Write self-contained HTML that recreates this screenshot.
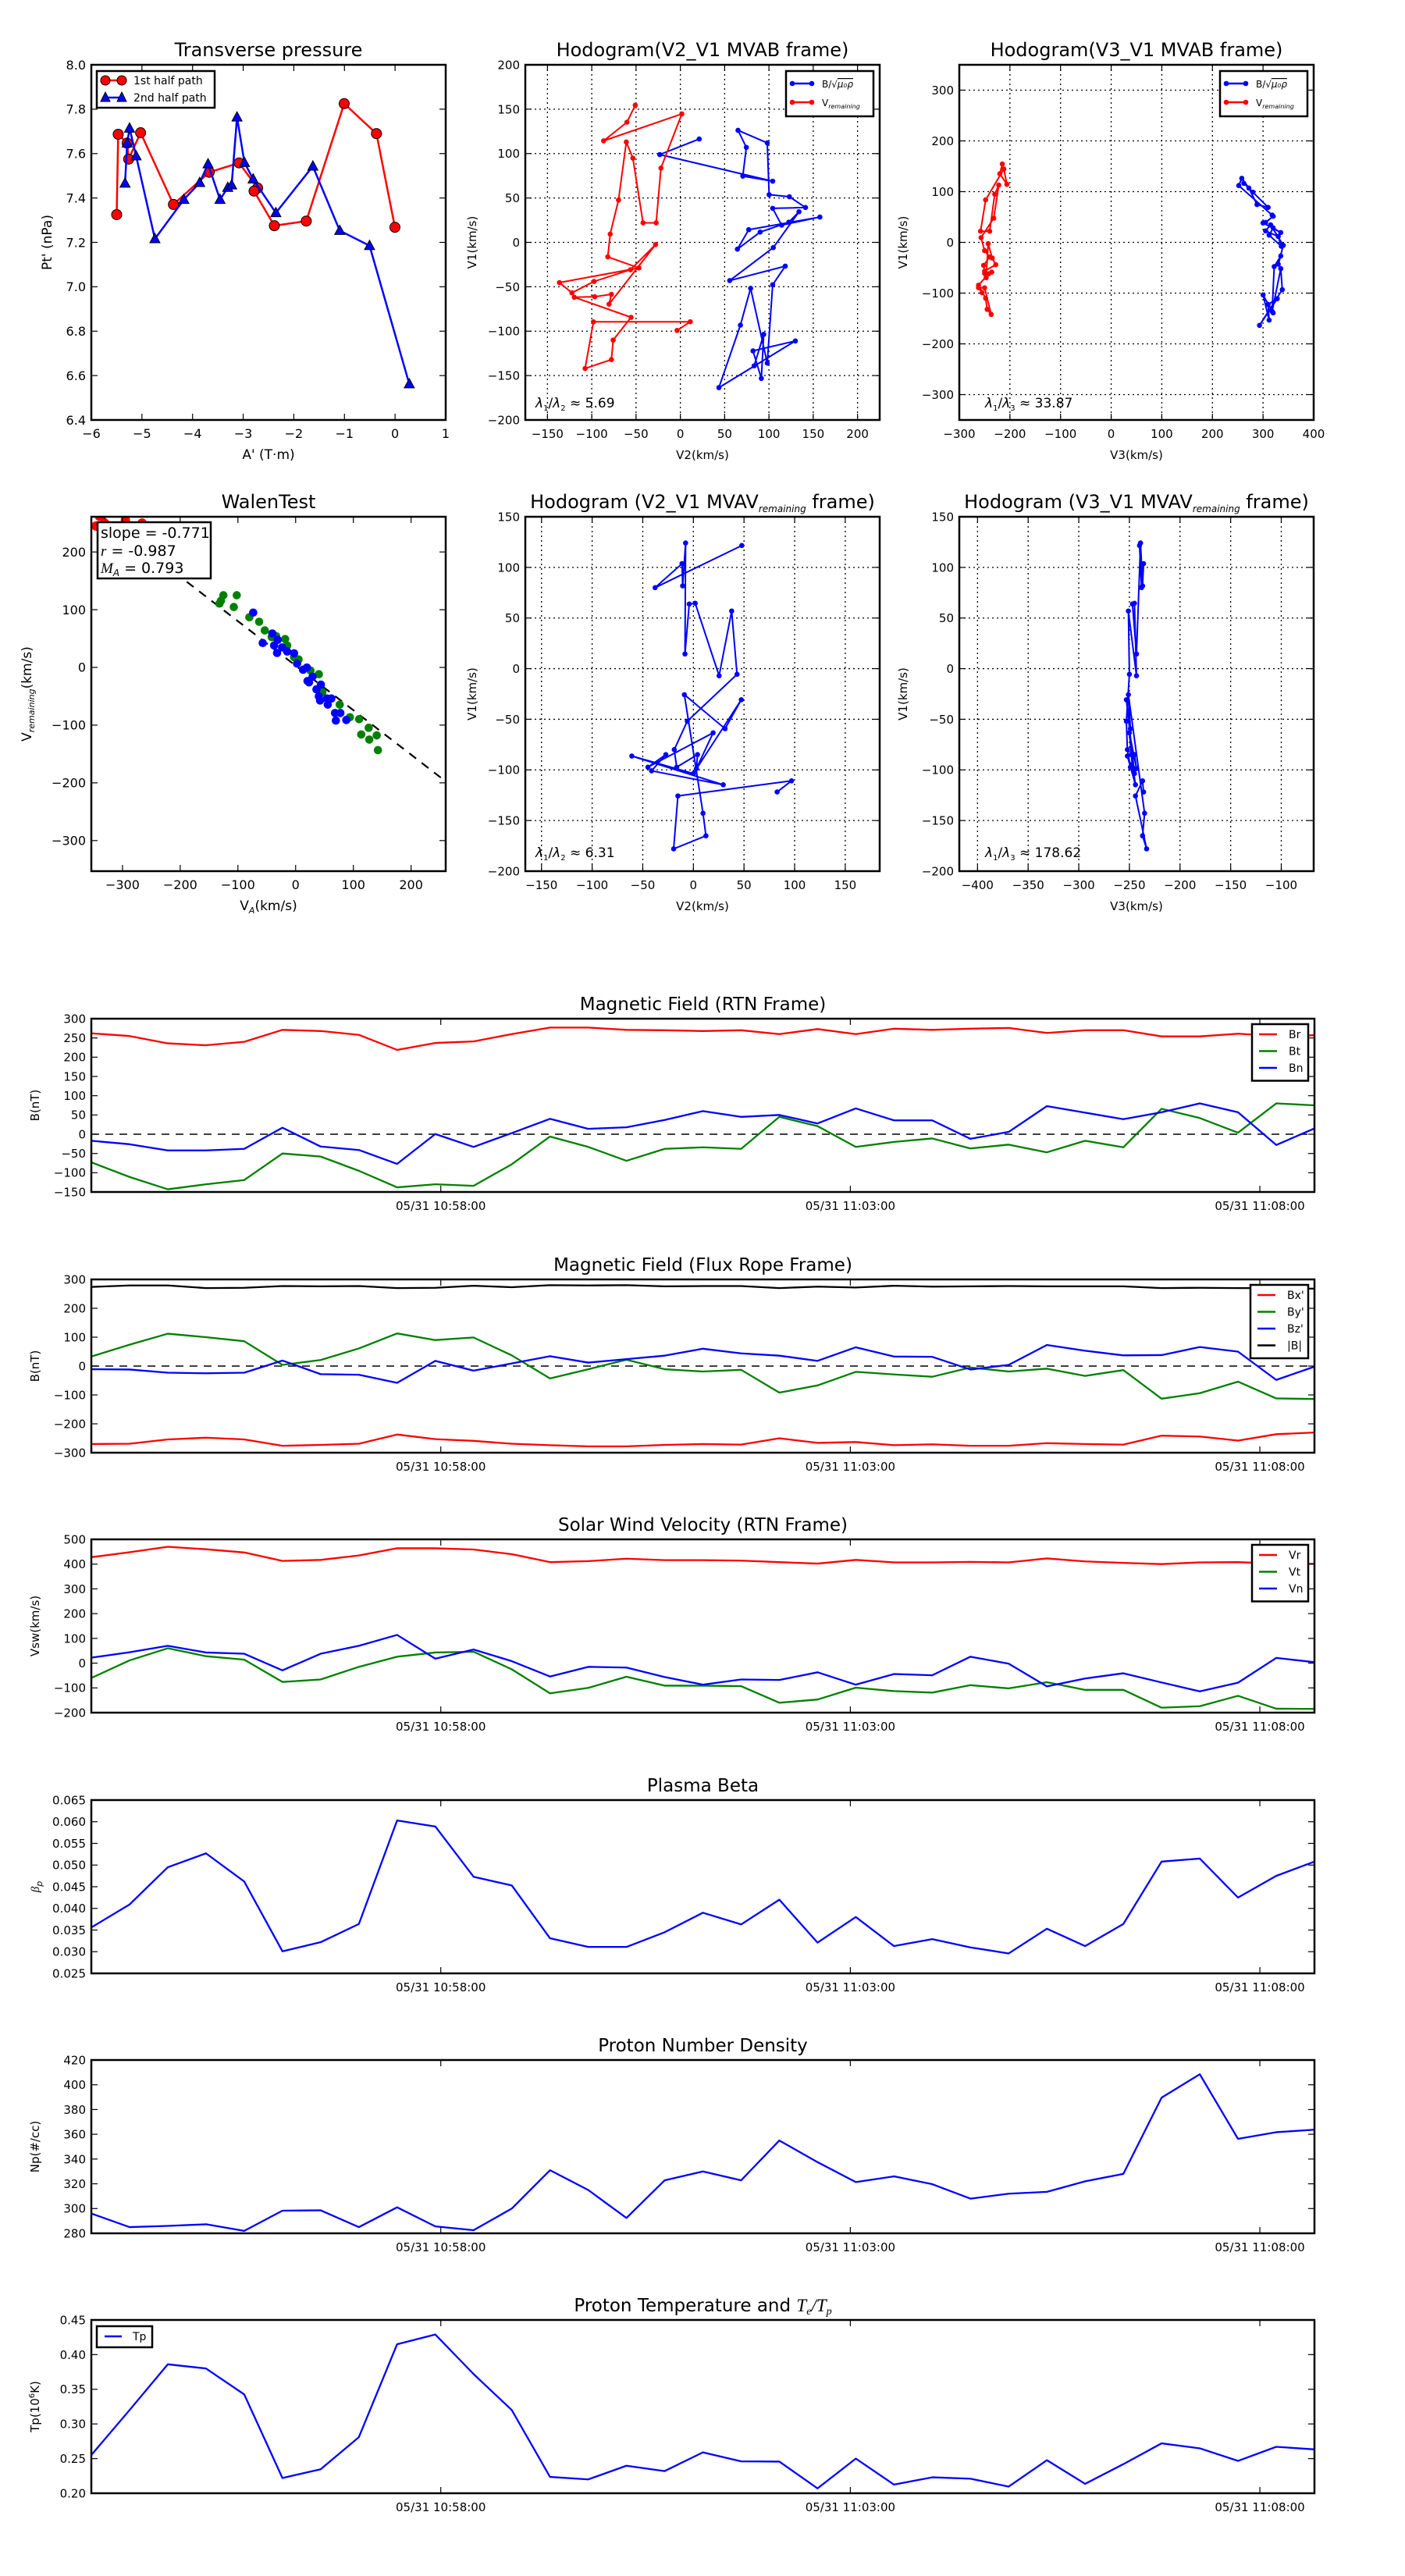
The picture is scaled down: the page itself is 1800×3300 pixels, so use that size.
<!DOCTYPE html>
<html><head><meta charset="utf-8"><title>Flux rope analysis</title>
<style>
html,body{margin:0;padding:0;background:#fff;}
svg{display:block;font-family:"DejaVu Sans","Liberation Sans",sans-serif;}
</style></head>
<body>
<svg id="fig" xmlns="http://www.w3.org/2000/svg" width="1800" height="3300" viewBox="0 0 1800 3300">
<rect x="0" y="0" width="1800" height="3300" fill="#fff"/>
</svg>
<script>
// ---------------- DATA ----------------
// Transverse pressure
const ptA1 = [-5.499,-5.469,-5.292,-5.263,-5.027,-4.378,-3.671,-3.081,-2.715,-2.786,-2.385,-1.754,-1.005,-0.368,-0.003];
const ptP1 = [7.325,7.687,7.647,7.575,7.694,7.371,7.516,7.558,7.445,7.431,7.275,7.296,7.825,7.69,7.268];
const ptA2 = [-5.334,-5.292,-5.245,-5.115,-4.744,-4.172,-3.859,-3.694,-3.458,-3.305,-3.228,-3.122,-2.975,-2.804,-2.355,-1.624,-1.093,-0.504,0.281];
const ptP2 = [7.466,7.647,7.714,7.589,7.216,7.393,7.469,7.553,7.393,7.447,7.458,7.764,7.559,7.485,7.333,7.543,7.253,7.185,6.562];
// MVAB hodogram - B/sqrt(mu0 rho)
const bV2 = [21.3,-23.2,104.2,70.5,74.5,65.1,98.1,100.2,123.1,141.3,104.2,114.3,157.5,77.2,64.4,90.1,122.4,133.9,104.9,55.7,118.4,104.2,98.1,79.3,67.8,43.5,129.8,82,91.4,94.1,83.3];
const bV1 = [116.4,98.9,68.9,74.6,107,126.2,112,53.7,51.4,39.3,38.3,19.4,28.5,14.3,-7.6,11.6,22.7,34.5,-5.9,-43,-26.8,-47.7,-136,-51.7,-93.2,-163.6,-111,-122.2,-153.2,-103.6,-139];
const bV3 = [262,280,310,288,272,258,252,318,320,305,300,335,320,312,336,330,305,315,340,330,335,322,318,335,338,293,328,310,312,300,320];
// MVAB hodogram - V remaining
const rV2 = [-3.7,11.2,-98.1,-107.5,-77.8,-75.8,-55.6,-119.7,-96.7,-77.8,-80.5,-28,-56.3,-97.4,-122.4,-136.5,-46.8,-81.9,-79.2,-69.8,-61,-53.6,-42.1,-27.3,-21.9,1.7,-86.6,-60.3,-50.9];
const rV1 = [-99.2,-89.4,-89.5,-142,-132,-110,-84.4,-61.8,-61.2,-58.5,-69.6,-2.5,-30.8,-44,-56.8,-45.3,-28.8,-16.3,9.3,47.7,113,94.9,22,22,83.7,144.7,114.4,135.3,154.5];
const rV3 = [-255,-262,-250,-237,-245,-248,-262,-242,-250,-236,-247,-243,-235,-228,-250,-252,-240,-250,-257,-232,-222,-230,-240,-258,-248,-212,-206,-220,-215];
// MVAV hodogram
const aV2 = [82.7,96.9,-15.3,-19.5,12.4,9.5,-8.9,31.3,47.3,0,-60.8,29.5,-41.3,-27.2,-44.9,19.5,3,4.1,-16.5,-18.9,-6,43.1,37.8,25.4,1.8,-4.1,-8.3,-7.7,-10.6,-11.2,-37.8,47.8];
const aV1 = [-121.8,-110.8,-125.7,-178,-165.1,-142.8,-25.7,-59.3,-30.7,-103.6,-86.3,-114.7,-100.9,-84.9,-97.3,-63.4,-98.7,-84.9,-97.3,-80,-51.9,-5.6,56.9,-7,64.6,63.8,14.5,124.1,81.7,103.7,80,121.6];
const aV3 = [-236,-237,-244,-233,-237,-235,-251,-249,-253,-245,-252,-244,-246,-248,-247,-250,-243,-245,-249,-252,-253,-250,-251,-243,-245,-247,-243,-239,-237,-236,-238,-240];
// Walen test
const walGreenVA = [-129.4,-125.2,-102,-107.1,-80.2,-63.2,-53.4,-41.5,-33.7,-18.2,-14.6,-2.7,5.1,25.7,40.2,46.4,76.4,94,110,126.6,113.7,127.6,140.5,142.6,-132];
const walGreenVR = [115.4,125,125,104.7,86.8,79.1,64.1,52.5,54,49.1,38,17.7,13.8,-5.5,-11.8,-42.7,-64.5,-86.3,-89.7,-104.6,-116.2,-125,-117.7,-143.3,110.6];
const walBlueVA = [-73.5,-57,-40.4,-31.1,-37.3,-32.2,-23.4,-14.6,-2.7,2.5,12.8,19.5,29.4,20.6,23.2,36.1,43.8,40.2,42.3,54.2,61.9,55.7,68.2,77.5,69.7,87.8];
const walBlueVR = [95,42.3,58.8,47.7,38,25,34.6,27.4,24.5,6.6,-4,-0.2,-16.1,-23.5,-25.9,-38,-29.8,-50,-57.3,-53.9,-53.9,-64.5,-79,-79,-92.1,-91.1];
const walRedVA = [-346,-331,-295,-266,-340];
const walRedVR = [245,250,255,250,262];
const walSlope = -0.771;
const walIntercept = 3;
// Time series (cadence 28 s starting 10:53:44)
const cadenceSec = 28;
const timeTickSec = [256,556,856];
const timeTickLabels = ["05/31 10:58:00","05/31 11:03:00","05/31 11:08:00"];
const Br = [262,255,236,231,240,271,268,258,219,237,241,260,277,277,271,270,268,270,260,273,260,274,271,274,276,263,270,270,254,254,261,255,257];
const Bt = [-73,-111,-143,-130,-119,-50,-58,-95,-138,-130,-134,-78,-6,-33,-69,-38,-34,-38,45,21,-33,-20,-11,-37,-27,-47,-17,-34,66,42,4,80,75];
const Bn = [-17,-26,-42,-42,-38,17,-32,-41,-77,0.5,-33,3,40,14,18,37,60,45,50,28,67,36,36,-12,6,73,56,39,57,80,57,-28,15];
const Bx = [-270,-269,-254,-248,-254,-276,-273,-269,-237,-253,-259,-269,-274,-278,-278,-273,-270,-272,-250,-266,-263,-274,-271,-276,-276,-267,-270,-272,-241,-244,-258,-236,-230];
const By = [33,74,112,100,86,4,21,61,113,90,99,37,-43,-11,22,-11,-19,-13,-92,-67,-20,-29,-37,-5,-19,-9,-34,-14,-113,-94,-54,-112,-114];
const Bz = [-11,-12,-23,-25,-23,19,-28,-30,-58,18,-16,9,34,12,24,36,60,44,36,18,65,33,32,-12,4,73,53,37,38,66,50,-48,-2];
const Bmag = [274,279,279,270,271,277,276,277,270,271,278,273,280,279,280,276,277,277,270,275,272,278,275,276,277,276,276,276,270,271,270,270,268];
const Vr = [428,448,470,460,447,413,417,435,464,464,459,440,408,412,422,416,416,414,408,402,417,407,407,409,407,423,411,405,400,407,408,402,401];
const Vt = [-60,11,60,28,14,-76,-66,-15,26,43,46,-25,-122,-100,-55,-91,-91,-93,-160,-147,-99,-113,-119,-89,-102,-77,-108,-108,-180,-174,-132,-184,-185];
const Vn = [22,44,70,43,38,-29,38,70,114,18,55,8,-54,-15,-18,-56,-87,-66,-68,-37,-87,-44,-49,26,-2,-94,-62,-41,-78,-114,-79,21,4];
const betaP = [0.0356,0.0409,0.0495,0.0527,0.0462,0.0301,0.0322,0.0364,0.0603,0.0589,0.0473,0.0453,0.0331,0.0311,0.0311,0.0345,0.039,0.0363,0.042,0.0321,0.038,0.0313,0.0329,0.031,0.0296,0.0353,0.0313,0.0364,0.0508,0.0515,0.0425,0.0475,0.0508];
const Np = [296,285,286,287.3,282,298.3,298.6,285,301,285.6,282.5,300,331,315,292.4,322.8,330,322.8,355,337.5,321.4,326,319.7,308,312,313.5,322,328,389.6,408.5,356.3,361.7,363.7];
const Tp = [0.2552,0.320,0.386,0.380,0.3426,0.222,0.2346,0.281,0.415,0.429,0.372,0.320,0.2236,0.220,0.2397,0.232,0.259,0.246,0.2457,0.207,0.250,0.2125,0.223,0.221,0.2096,0.2477,0.2136,0.242,0.272,0.2648,0.2467,0.267,0.2633];

// ---------------- HELPERS ----------------
const NS = "http://www.w3.org/2000/svg";
const svg = document.getElementById('fig');
let clipCount = 0;
function el(tag, attrs, parent) {
  const e = document.createElementNS(NS, tag);
  for (const k in attrs) e.setAttribute(k, attrs[k]);
  (parent || svg).appendChild(e);
  return e;
}
function fmtNum(v, d) {
  const s = Math.abs(v).toFixed(d);
  return (v < 0 ? "\u2212" : "") + s;
}
function range(a, b, s) { const r = []; for (let v = a; v <= b + s * 1e-6; v += s) r.push(+v.toFixed(6)); return r; }

function axes(c) {
  const g = el('g', {});
  
  
  const sx = v => c.L + (v - c.xmin) / (c.xmax - c.xmin) * (c.R - c.L);
  const sy = v => c.B - (v - c.ymin) / (c.ymax - c.ymin) * (c.B - c.T);
  const fs = c.fs || 16;
  // grid
  if (c.grid) {
    const gg = el('g', {stroke: '#000', 'stroke-width': 1.3, 'stroke-dasharray': '2,4'}, g);
    
    
    c.xt.forEach(v => { const ln = el('line', {x1: sx(v), x2: sx(v), y1: c.T, y2: c.B}, gg);   });
    c.yt.forEach(v => { const ln = el('line', {x1: c.L, x2: c.R, y1: sy(v), y2: sy(v)}, gg);   });
  }
  const id = 'clip' + (clipCount++);
  const cp = el('clipPath', {id: id}, g);
  el('rect', {x: c.L, y: c.T, width: c.R - c.L, height: c.B - c.T}, cp);
  const data = el('g', {'clip-path': 'url(#' + id + ')'}, g);
  
  
  const frame = el('g', {}, g);
  
  
  // ticks
  const tl = 8;
  c.xt.forEach((v, i) => {
    const x = sx(v);
    const t1 = el('line', {x1: x, x2: x, y1: c.B, y2: c.B - tl, stroke: '#000', 'stroke-width': 1.2}, frame);
    
    
    const t2 = el('line', {x1: x, x2: x, y1: c.T, y2: c.T + tl, stroke: '#000', 'stroke-width': 1.2}, frame);
    
    
    const lb = el('text', {x: x, y: c.B + (c.xtOff || 23), 'text-anchor': 'middle', 'font-size': fs}, frame);
    lb.textContent = c.xtl[i];
    
    
  });
  c.yt.forEach((v, i) => {
    const y = sy(v);
    const t1 = el('line', {x1: c.L, x2: c.L + tl, y1: y, y2: y, stroke: '#000', 'stroke-width': 1.2}, frame);
    
    
    const t2 = el('line', {x1: c.R, x2: c.R - tl, y1: y, y2: y, stroke: '#000', 'stroke-width': 1.2}, frame);
    
    
    const lb = el('text', {x: c.L - 7, y: y + fs * 0.36, 'text-anchor': 'end', 'font-size': fs}, frame);
    lb.textContent = c.ytl[i];
    
    
  });
  const fr = el('rect', {x: c.L, y: c.T, width: c.R - c.L, height: c.B - c.T, fill: 'none', stroke: '#000', 'stroke-width': 2.5}, frame);
  
  
  // title
  const tt = el('text', {x: (c.L + c.R) / 2, y: c.T - 11, 'text-anchor': 'middle', 'font-size': c.tfs || 24}, frame);
  tt.innerHTML = c.title;
  
  
  if (c.xlabel) {
    const xl = el('text', {x: (c.L + c.R) / 2, y: c.B + (c.xlOff || 52), 'text-anchor': 'middle', 'font-size': c.lfs || 17}, frame);
    xl.innerHTML = c.xlabel;
    
    
  }
  if (c.ylabel) {
    const yx = c.ylX, yy = (c.T + c.B) / 2;
    const yl = el('text', {x: yx, y: yy, 'text-anchor': 'middle', 'font-size': c.lfs || 17, transform: 'rotate(-90 ' + yx + ' ' + yy + ')'}, frame);
    yl.innerHTML = c.ylabel;
    
    
  }
  return {sx, sy, data, frame};
}
function polyline(ax, xs, ys, color, w, name, dash) {
  const pts = xs.map((x, i) => ax.sx(x).toFixed(2) + ',' + ax.sy(ys[i]).toFixed(2)).join(' ');
  const p = el('polyline', {points: pts, fill: 'none', stroke: color, 'stroke-width': w, 'stroke-linejoin': 'round'}, ax.data);
  if (dash) p.setAttribute('stroke-dasharray', dash);
  
  
  return p;
}
function dots(ax, xs, ys, color, r, name) {
  xs.forEach((x, i) => {
    const c = el('circle', {cx: ax.sx(x), cy: ax.sy(ys[i]), r: r, fill: color, stroke: 'none'}, ax.data);
    
    
  });
}
function txt(x, y, html, fs, name, anchor) {
  const t = el('text', {x: x, y: y, 'font-size': fs, 'text-anchor': anchor || 'start'});
  t.innerHTML = html;
  
  
  return t;
}
function box(x, y, w, h, name) {
  const r = el('rect', {x: x, y: y, width: w, height: h, fill: '#fff', stroke: '#000', 'stroke-width': 2.5});
  
  
  return r;
}
function legLine(x1, x2, y, color, name) {
  const l = el('line', {x1: x1, x2: x2, y1: y, y2: y, stroke: color, 'stroke-width': 2.5});
  
  
  return l;
}
const sub = s => '<tspan font-size="70%" dy="4" font-style="italic">' + s + '</tspan><tspan dy="-4"></tspan>';

// ---------------- TRANSVERSE PRESSURE ----------------
(function () {
  const xt = range(-6, 1, 1), yt = range(6.4, 8.0, 0.2);
  const ax = axes({name: 'transverse-pressure-chart', L: 117, T: 83, R: 571, B: 538, xmin: -6, xmax: 1, ymin: 6.4, ymax: 8.0,
    xt: xt, xtl: xt.map(v => fmtNum(v, 0)), yt: yt, ytl: yt.map(v => fmtNum(v, 1)),
    title: 'Transverse pressure', xlabel: "A' (T\u00b7m)", ylabel: "Pt' (nPa)", ylX: 66, xlOff: 50});
  polyline(ax, ptA1, ptP1, '#ff0000', 2.5, 'first-half-path-line');
  ptA1.forEach((a, i) => {
    const c = el('circle', {cx: ax.sx(a), cy: ax.sy(ptP1[i]), r: 6.5, fill: '#ff0000', stroke: '#000', 'stroke-width': 1}, ax.data);
    
    
  });
  polyline(ax, ptA2, ptP2, '#0000ff', 2.5, 'second-half-path-line');
  ptA2.forEach((a, i) => {
    const x = ax.sx(a), y = ax.sy(ptP2[i]);
    const t = el('polygon', {points: (x) + ',' + (y - 7) + ' ' + (x - 6.5) + ',' + (y + 5) + ' ' + (x + 6.5) + ',' + (y + 5), fill: '#0000ff', stroke: '#000', 'stroke-width': 1}, ax.data);
    
    
  });
  box(124, 91, 151, 47, 'transverse-legend');
  legLine(135, 156, 103, '#ff0000', 'legend-line-first-half');
  [135, 156].forEach(x => { const c = el('circle', {cx: x, cy: 103, r: 6, fill: '#ff0000', stroke: '#000', 'stroke-width': 1});   });
  txt(171, 108, '1st half path', 14, 'legend-label-first-half');
  legLine(135, 156, 125, '#0000ff', 'legend-line-second-half');
  [135, 156].forEach(x => { const t = el('polygon', {points: x + ',' + 118 + ' ' + (x - 6) + ',' + 130 + ' ' + (x + 6) + ',' + 130, fill: '#0000ff', stroke: '#000', 'stroke-width': 1});   });
  txt(171, 130, '2nd half path', 14, 'legend-label-second-half');
})();

// ---------------- HODOGRAM V2-V1 MVAB ----------------
function hodoLegend(x, y, name) {
  box(x, y, 112, 58, name);
  legLine(x + 8, x + 33, y + 16, '#0000ff', 'legend-line-b');
  [x + 8, x + 33].forEach(cx => { const c = el('circle', {cx: cx, cy: y + 16, r: 3.3, fill: '#0000ff'});   });
  txt(x + 46, y + 21, 'B/\u221a<tspan text-decoration="overline" font-style="italic">\u03bc\u2080\u03c1</tspan>', 12, 'legend-label-b');
  legLine(x + 8, x + 33, y + 40, '#ff0000', 'legend-line-v');
  [x + 8, x + 33].forEach(cx => { const c = el('circle', {cx: cx, cy: y + 40, r: 3.3, fill: '#ff0000'});   });
  txt(x + 46, y + 45, 'V<tspan font-size="8" dy="3" font-style="italic">remaining</tspan>', 12, 'legend-label-v');
}
(function () {
  const xt = range(-150, 200, 50), yt = range(-200, 200, 50);
  const ax = axes({name: 'hodogram-v2-v1-mvab', L: 673, T: 83, R: 1127, B: 538, xmin: -175, xmax: 225, ymin: -200, ymax: 200,
    xt: xt, xtl: xt.map(v => fmtNum(v, 0)), yt: yt, ytl: yt.map(v => fmtNum(v, 0)), grid: true, fs: 15,
    title: 'Hodogram(V2_V1 MVAB frame)', xlabel: 'V2(km/s)', ylabel: 'V1(km/s)', ylX: 610, xlOff: 50, lfs: 15});
  polyline(ax, bV2, bV1, '#0000ff', 2, 'b-alfven-path');
  dots(ax, bV2, bV1, '#0000ff', 3.3, 'b-alfven-point');
  polyline(ax, rV2, rV1, '#ff0000', 2, 'v-remaining-path');
  dots(ax, rV2, rV1, '#ff0000', 3.3, 'v-remaining-point');
  hodoLegend(1007, 91, 'hodogram-v2-mvab-legend');
  txt(686, 522, '<tspan font-style="italic">\u03bb</tspan><tspan font-size="10" dy="4">1</tspan><tspan dy="-4">/</tspan><tspan font-style="italic">\u03bb</tspan><tspan font-size="10" dy="4">2</tspan><tspan dy="-4"> \u2248 5.69</tspan>', 17, 'eigenvalue-ratio-v2-mvab');
})();

// ---------------- HODOGRAM V3-V1 MVAB ----------------
(function () {
  const xt = range(-300, 400, 100), yt = range(-300, 300, 100);
  const ax = axes({name: 'hodogram-v3-v1-mvab', L: 1229, T: 83, R: 1683, B: 538, xmin: -300, xmax: 400, ymin: -350, ymax: 350,
    xt: xt, xtl: xt.map(v => fmtNum(v, 0)), yt: yt, ytl: yt.map(v => fmtNum(v, 0)), grid: true, fs: 15,
    title: 'Hodogram(V3_V1 MVAB frame)', xlabel: 'V3(km/s)', ylabel: 'V1(km/s)', ylX: 1162, xlOff: 50, lfs: 15});
  polyline(ax, bV3, bV1, '#0000ff', 2, 'b-alfven-path');
  dots(ax, bV3, bV1, '#0000ff', 3.3, 'b-alfven-point');
  polyline(ax, rV3, rV1, '#ff0000', 2, 'v-remaining-path');
  dots(ax, rV3, rV1, '#ff0000', 3.3, 'v-remaining-point');
  hodoLegend(1563, 91, 'hodogram-v3-mvab-legend');
  txt(1262, 522, '<tspan font-style="italic">\u03bb</tspan><tspan font-size="10" dy="4">1</tspan><tspan dy="-4">/</tspan><tspan font-style="italic">\u03bb</tspan><tspan font-size="10" dy="4">3</tspan><tspan dy="-4"> \u2248 33.87</tspan>', 17, 'eigenvalue-ratio-v3-mvab');
})();

// ---------------- WALEN TEST ----------------
(function () {
  const xt = range(-300, 200, 100), yt = range(-300, 200, 100);
  const ax = axes({name: 'walen-test-chart', L: 117, T: 662, R: 571, B: 1116, xmin: -354, xmax: 260, ymin: -353, ymax: 261,
    xt: xt, xtl: xt.map(v => fmtNum(v, 0)), yt: yt, ytl: yt.map(v => fmtNum(v, 0)),
    title: 'WalenTest', xlabel: 'V' + '<tspan font-size="11" dy="4" font-style="italic">A</tspan><tspan dy="-4">(km/s)</tspan>',
    ylabel: 'V<tspan font-size="11" dy="4" font-style="italic">remaining</tspan><tspan dy="-4">(km/s)</tspan>', ylX: 40, xlOff: 50});
  const fx = [-360, 255];
  polyline(ax, fx, fx.map(v => walSlope * v + walIntercept), '#000', 2.2, 'walen-fit-line', '11,9');
  dots(ax, walRedVA, walRedVR, '#ff0000', 6, 'walen-point-red');
  dots(ax, walGreenVA, walGreenVR, '#008000', 5.3, 'walen-point-green');
  dots(ax, walBlueVA, walBlueVR, '#0000ff', 5.3, 'walen-point-blue');
  box(125, 669, 145, 72, 'walen-stats-box');
  txt(129, 689, 'slope = -0.771', 19, 'walen-slope-text');
  txt(129, 712, '<tspan font-style="italic" font-family="Liberation Serif">r</tspan> = -0.987', 19, 'walen-r-text');
  txt(129, 734, '<tspan font-style="italic" font-family="Liberation Serif">M</tspan><tspan font-style="italic" font-size="12" dy="4">A</tspan><tspan dy="-4"> = 0.793</tspan>', 19, 'walen-ma-text');
})();

// ---------------- HODOGRAM V2-V1 MVAV ----------------
(function () {
  const xt = range(-150, 150, 50), yt = range(-200, 150, 50);
  const ax = axes({name: 'hodogram-v2-v1-mvav', L: 673, T: 662, R: 1127, B: 1116, xmin: -166, xmax: 184, ymin: -200, ymax: 150,
    xt: xt, xtl: xt.map(v => fmtNum(v, 0)), yt: yt, ytl: yt.map(v => fmtNum(v, 0)), grid: true, fs: 15,
    title: 'Hodogram (V2_V1 MVAV<tspan font-size="12" dy="5" font-style="italic">remaining</tspan><tspan dy="-5"> frame)</tspan>',
    xlabel: 'V2(km/s)', ylabel: 'V1(km/s)', ylX: 610, xlOff: 50, lfs: 15});
  polyline(ax, aV2, aV1, '#0000ff', 2, 'mvav-path');
  dots(ax, aV2, aV1, '#0000ff', 3.3, 'mvav-point');
  txt(686, 1098, '<tspan font-style="italic">\u03bb</tspan><tspan font-size="10" dy="4">1</tspan><tspan dy="-4">/</tspan><tspan font-style="italic">\u03bb</tspan><tspan font-size="10" dy="4">2</tspan><tspan dy="-4"> \u2248 6.31</tspan>', 17, 'eigenvalue-ratio-v2-mvav');
})();

// ---------------- HODOGRAM V3-V1 MVAV ----------------
(function () {
  const xt = range(-400, -100, 50), yt = range(-200, 150, 50);
  const ax = axes({name: 'hodogram-v3-v1-mvav', L: 1229, T: 662, R: 1683, B: 1116, xmin: -418, xmax: -68, ymin: -200, ymax: 150,
    xt: xt, xtl: xt.map(v => fmtNum(v, 0)), yt: yt, ytl: yt.map(v => fmtNum(v, 0)), grid: true, fs: 15,
    title: 'Hodogram (V3_V1 MVAV<tspan font-size="12" dy="5" font-style="italic">remaining</tspan><tspan dy="-5"> frame)</tspan>',
    xlabel: 'V3(km/s)', ylabel: 'V1(km/s)', ylX: 1162, xlOff: 50, lfs: 15});
  polyline(ax, aV3, aV1, '#0000ff', 2, 'mvav-path');
  dots(ax, aV3, aV1, '#0000ff', 3.3, 'mvav-point');
  txt(1262, 1098, '<tspan font-style="italic">\u03bb</tspan><tspan font-size="10" dy="4">1</tspan><tspan dy="-4">/</tspan><tspan font-style="italic">\u03bb</tspan><tspan font-size="10" dy="4">3</tspan><tspan dy="-4"> \u2248 178.62</tspan>', 17, 'eigenvalue-ratio-v3-mvav');
})();

// ---------------- TIME SERIES ----------------
const tsL = 117, tsR = 1684, tMax = 896;
function tsAxes(name, T, ymin, ymax, yt, ytl, title, ylabel) {
  return axes({name: name, L: tsL, T: T, R: tsR, B: T + 222, xmin: 0, xmax: tMax, ymin: ymin, ymax: ymax,
    xt: timeTickSec, xtl: timeTickLabels, yt: yt, ytl: ytl, fs: 15, xtOff: 23,
    title: title, ylabel: ylabel, ylX: 50, lfs: 15, tfs: 23});
}
function series(ax, vals, color, name) {
  const ts = vals.map((v, i) => i * cadenceSec);
  polyline(ax, ts, vals, color, 2.3, name);
}
function zeroLine(ax, name) {
  polyline(ax, [0, tMax], [0, 0], '#000', 1.5, name, '10,8');
}
function tsLegend(x, y, w, rows, name) {
  box(x, y, w, rows.length * 21.5 + 8, name);
  rows.forEach((r, i) => {
    const yy = y + 13 + i * 21.5;
    legLine(x + 9, x + 32, yy, r[0], 'legend-line-' + r[2]);
    txt(x + 47, yy + 5, r[1], 14, 'legend-label-' + r[2]);
  });
}
(function () {
  const yt = range(-150, 300, 50);
  const ax = tsAxes('magnetic-field-rtn-chart', 1305, -150, 300, yt, yt.map(v => fmtNum(v, 0)), 'Magnetic Field (RTN Frame)', 'B(nT)');
  zeroLine(ax, 'zero-line');
  series(ax, Br, '#ff0000', 'br-line');
  series(ax, Bt, '#008000', 'bt-line');
  series(ax, Bn, '#0000ff', 'bn-line');
  tsLegend(1604, 1312, 72, [['#ff0000', 'Br', 'br'], ['#008000', 'Bt', 'bt'], ['#0000ff', 'Bn', 'bn']], 'rtn-b-legend');
})();
(function () {
  const yt = range(-300, 300, 100);
  const ax = tsAxes('magnetic-field-flux-rope-chart', 1639, -300, 300, yt, yt.map(v => fmtNum(v, 0)), 'Magnetic Field (Flux Rope Frame)', 'B(nT)');
  zeroLine(ax, 'zero-line');
  series(ax, Bx, '#ff0000', 'bx-line');
  series(ax, By, '#008000', 'by-line');
  series(ax, Bz, '#0000ff', 'bz-line');
  series(ax, Bmag, '#000000', 'bmag-line');
  tsLegend(1602, 1646, 74, [['#ff0000', "Bx'", 'bx'], ['#008000', "By'", 'by'], ['#0000ff', "Bz'", 'bz'], ['#000000', '|B|', 'bmag']], 'flux-rope-legend');
})();
(function () {
  const yt = range(-200, 500, 100);
  const ax = tsAxes('solar-wind-velocity-chart', 1972, -200, 500, yt, yt.map(v => fmtNum(v, 0)), 'Solar Wind Velocity (RTN Frame)', 'Vsw(km/s)');
  series(ax, Vr, '#ff0000', 'vr-line');
  series(ax, Vt, '#008000', 'vt-line');
  series(ax, Vn, '#0000ff', 'vn-line');
  tsLegend(1604, 1979, 72, [['#ff0000', 'Vr', 'vr'], ['#008000', 'Vt', 'vt'], ['#0000ff', 'Vn', 'vn']], 'velocity-legend');
})();
(function () {
  const yt = range(0.025, 0.065, 0.005);
  const ax = tsAxes('plasma-beta-chart', 2306, 0.025, 0.065, yt, yt.map(v => v.toFixed(3)), 'Plasma Beta', '<tspan font-style="italic" font-family="Liberation Serif">\u03b2</tspan><tspan font-style="italic" font-size="11" dy="4">p</tspan>');
  series(ax, betaP, '#0000ff', 'beta-line');
})();
(function () {
  const yt = range(280, 420, 20);
  const ax = tsAxes('proton-density-chart', 2639, 280, 420, yt, yt.map(v => fmtNum(v, 0)), 'Proton Number Density', 'Np(#/cc)');
  series(ax, Np, '#0000ff', 'np-line');
})();
(function () {
  const yt = range(0.20, 0.45, 0.05);
  const ax = tsAxes('proton-temperature-chart', 2972, 0.20, 0.45, yt, yt.map(v => v.toFixed(2)), 'Proton Temperature and <tspan font-style="italic" font-family="Liberation Serif">T</tspan><tspan font-style="italic" font-size="14" dy="4" font-family="Liberation Serif">e</tspan><tspan dy="-4" font-family="Liberation Serif" font-style="italic">/T</tspan><tspan font-style="italic" font-size="14" dy="4" font-family="Liberation Serif">p</tspan>', 'Tp(10<tspan font-size="10" dy="-6">6</tspan><tspan dy="6">K)</tspan>');
  series(ax, Tp, '#0000ff', 'tp-line');
  box(124, 2980, 71, 27, 'temperature-legend');
  legLine(134, 156, 2993, '#0000ff', 'legend-line-tp');
  txt(170, 2998, 'Tp', 14, 'legend-label-tp');
})();
</script>
</body></html>
